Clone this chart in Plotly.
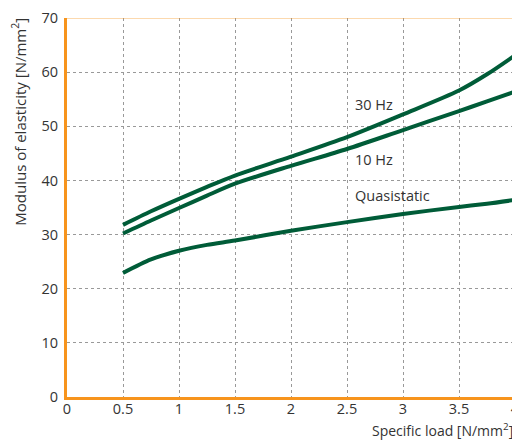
import plotly.graph_objects as go

load = [0.5, 0.75, 1.0, 1.25, 1.5, 2.0, 2.5, 3.0, 3.5, 3.75, 4.0]
hz30 = [31.8, 34.3, 36.6, 38.8, 40.9, 44.4, 48.0, 52.2, 56.6, 59.6, 63.1]
hz10 = [30.2, 32.6, 34.9, 37.2, 39.4, 42.7, 45.8, 49.3, 52.8, 54.6, 56.4]
quasi = [22.9, 25.4, 27.0, 28.1, 28.9, 30.7, 32.3, 33.8, 35.1, 35.7, 36.4]

labels = ["30 Hz", "10 Hz", "Quasistatic"]
label_x = [2.55, 2.55, 2.55]
label_y = [54.0, 43.9, 37.3]

GREEN = "#005C38"
ORANGE = "#F7941D"
TXT = "#333333"

fig = go.Figure()
for ys in (hz30, hz10, quasi):
    fig.add_trace(go.Scatter(x=load, y=ys, mode="lines",
                             line=dict(color=GREEN, width=4, shape="spline", smoothing=0.8),
                             showlegend=False, hoverinfo="skip"))

for t, x, y in zip(labels, label_x, label_y):
    fig.add_annotation(x=x, y=y, text=t, showarrow=False, xanchor="left", yanchor="middle",
                       font=dict(size=14.5, color=TXT))

fig.add_shape(type="line", xref="paper", yref="y", x0=0, x1=1, y0=70, y1=70,
              line=dict(color=ORANGE, width=1), opacity=0.7)

fig.add_annotation(xref="paper", yref="paper", x=-0.108, y=1.005, text="Modulus of elasticity [N/mm<sup>2</sup>]",
                   textangle=-90, showarrow=False, xanchor="center", yanchor="top",
                   font=dict(size=15, color=TXT))
fig.add_annotation(xref="paper", yref="paper", x=1.0, y=-0.055, text="Specific load [N/mm<sup>2</sup>]",
                   showarrow=False, xanchor="right", yanchor="top",
                   font=dict(size=14, color=TXT))

grid = dict(showgrid=True, gridcolor="#999999", gridwidth=1, griddash="3px,3px", zeroline=False)
fig.update_xaxes(range=[0, 4], tickvals=[0, 0.5, 1, 1.5, 2, 2.5, 3, 3.5, 4],
                 ticktext=["0", "0.5", "1", "1.5", "2", "2.5", "3", "3.5", "4"],
                 showline=True, linecolor=ORANGE, linewidth=3, ticks="", **grid,
                 tickfont=dict(size=14.5, color=TXT), ticklabeloverflow="allow",
                 ticklabelstandoff=-3)
fig.update_yaxes(range=[0, 70], tickvals=[0, 10, 20, 30, 40, 50, 60, 70],
                 showline=True, linecolor=ORANGE, linewidth=3, ticks="", **grid,
                 tickfont=dict(size=14.5, color=TXT), ticklabelstandoff=3,
                 ticklabeloverflow="allow")

fig.update_layout(width=512, height=432, margin=dict(l=59, r=0, t=4, b=43),
                  plot_bgcolor="white", paper_bgcolor="white",
                  font=dict(family="Open Sans, sans-serif", color=TXT))
fig.write_html("out.html")
